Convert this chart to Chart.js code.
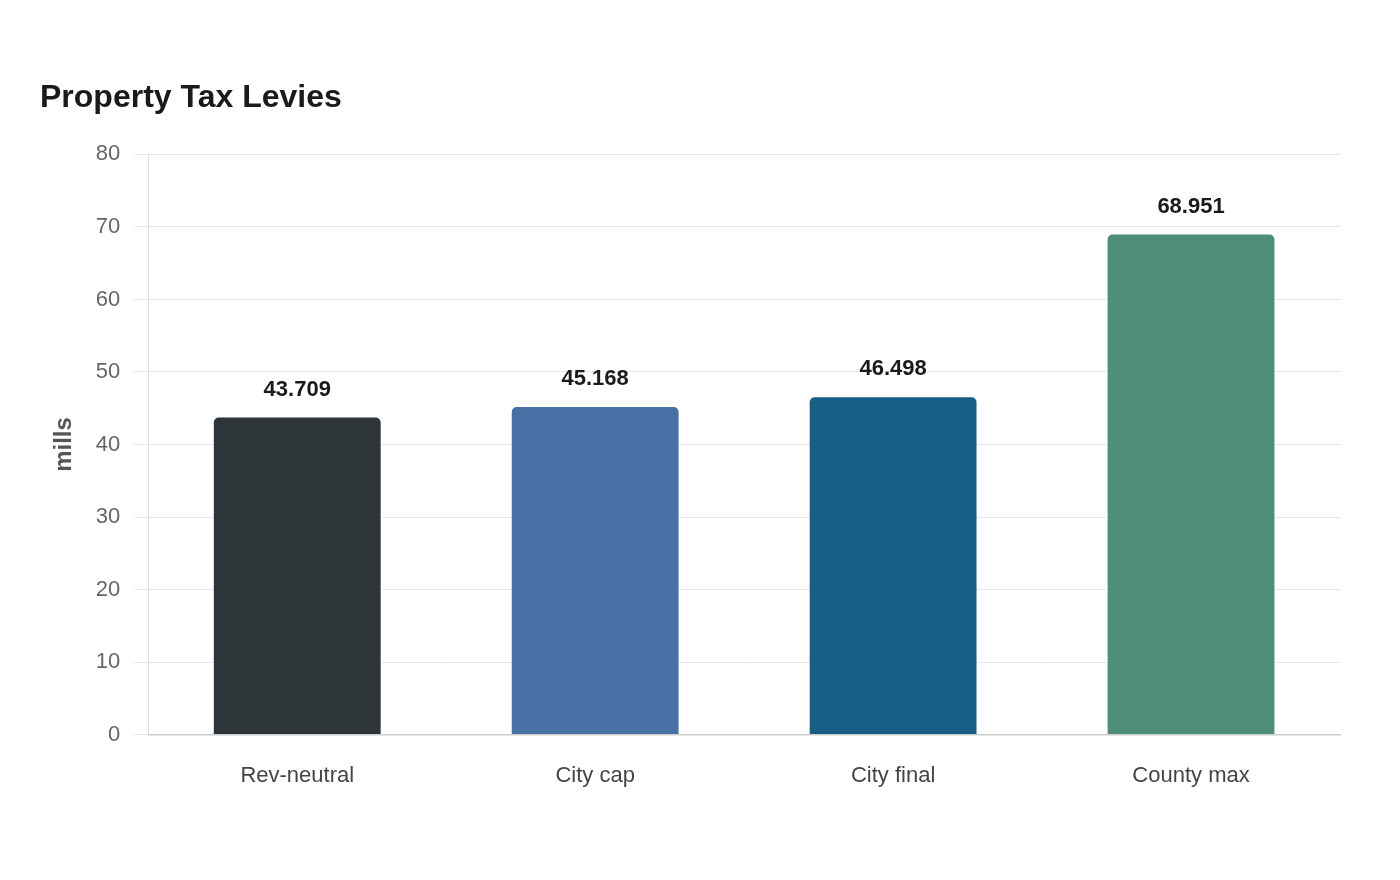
<!DOCTYPE html>
<html><head><meta charset="utf-8">
<script src="https://cdn.jsdelivr.net/npm/chart.js@4/dist/chart.umd.min.js"></script>
<style>html,body{margin:0;padding:0;background:#fff}#wrap{width:1400px;height:880px}</style>
</head><body><div id="wrap"><canvas id="c" width="1400" height="880"></canvas></div>
<script>
const categories = ["Rev-neutral", "City cap", "City final", "County max"];
const levyValues = [43.709, 45.168, 46.498, 68.951];
const barColors = ["#2e3538", "#4a6fa5", "#185f86", "#4f8d7b"];
const yTicks = [0, 10, 20, 30, 40, 50, 60, 70, 80];
const FONT = "'Liberation Sans', Arial, sans-serif";

const valueLabels = {
  id: 'valueLabels',
  afterDatasetsDraw(chart) {
    const ctx = chart.ctx;
    const meta = chart.getDatasetMeta(0);
    ctx.save();
    ctx.font = "bold 22px " + FONT;
    ctx.fillStyle = "#1a1a1a";
    ctx.textAlign = "center";
    ctx.textBaseline = "middle";
    meta.data.forEach((bar, i) => {
      ctx.fillText(levyValues[i].toFixed(3), bar.x, bar.y - 28);
    });
    ctx.restore();
  }
};

new Chart(document.getElementById('c'), {
  type: 'bar',
  data: {
    labels: categories,
    datasets: [{
      data: levyValues,
      backgroundColor: barColors,
      borderRadius: {topLeft: 5, topRight: 5},
      borderSkipped: 'bottom',
      barPercentage: 0.7,
      categoryPercentage: 0.8
    }]
  },
  options: {
    responsive: false,
    animation: false,
    layout: {padding: {left: 40, right: 60, top: 79, bottom: 71}},
    plugins: {
      legend: {display: false},
      tooltip: {enabled: false},
      title: {
        display: true,
        text: "Property Tax Levies",
        align: 'start',
        color: "#1a1a1a",
        font: {family: FONT, size: 32, weight: 'bold'},
        padding: {top: 0, bottom: 37}
      }
    },
    scales: {
      x: {
        grid: {display: false},
        border: {color: "#cccccc", width: 1.5},
        ticks: {color: "#444", font: {family: FONT, size: 22}, padding: 20}
      },
      y: {
        min: 0, max: 80,
        afterBuildTicks(axis) { axis.ticks = yTicks.map(v => ({value: v})); },
        grid: {color: "#e8e8e8", tickLength: 15, lineWidth: 1},
        border: {color: "#dddddd"},
        ticks: {color: "#666", font: {family: FONT, size: 22}, padding: 13},
        title: {display: true, text: "mills", color: "#555", font: {family: FONT, size: 24, weight: 'bold'}, padding: {top: 10, bottom: 4}}
      }
    }
  },
  plugins: [valueLabels]
});
</script></body></html>
